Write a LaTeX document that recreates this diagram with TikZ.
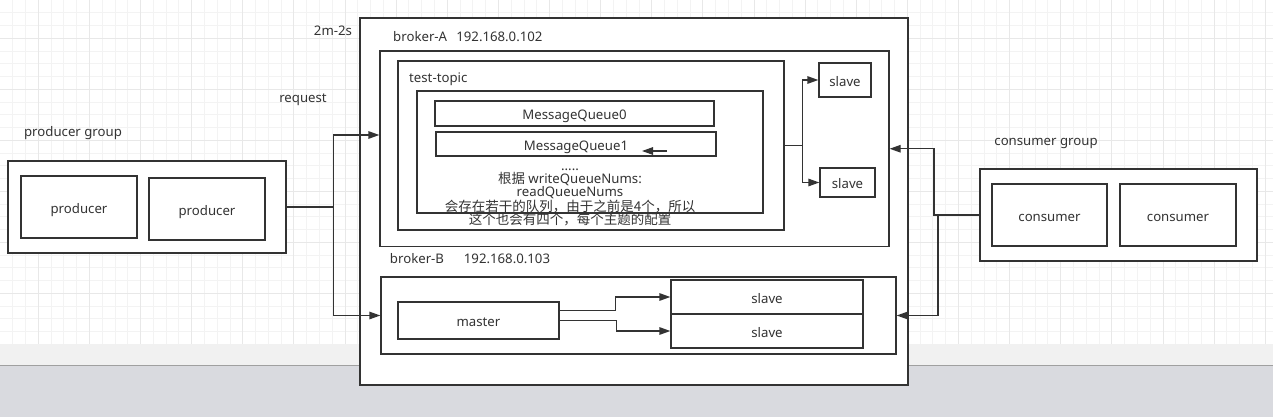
\documentclass[tikz,border=0pt]{standalone}
\usepackage{fontspec}
\setmainfont{Noto Sans}
\newfontfamily\cjk{Noto Sans CJK SC}
\usetikzlibrary{arrows.meta}
\definecolor{ln}{HTML}{333333}
\definecolor{txt}{HTML}{333333}
\definecolor{gridminor}{HTML}{F3F3F3}
\definecolor{gridmajor}{HTML}{E8E8E8}
\definecolor{band}{HTML}{F1F1F1}
\definecolor{floor}{HTML}{D9DADF}
\definecolor{shadow}{HTML}{A0A0A0}
\newcommand\lblfont{\fontsize{13.2pt}{13pt}\selectfont}
\tikzset{
  box/.style={draw=ln, line width=1.3pt, fill=white, inner sep=0pt, text=txt, font=\lblfont, text height=12.5pt, text depth=0pt},
  lbl/.style={text=txt, font=\lblfont, inner sep=0pt, text height=12.5pt, text depth=0pt},
  conn/.style={draw=ln, line width=1.3pt, -{Triangle[length=11pt,width=7.5pt]}},
}
\begin{document}
\begin{tikzpicture}[x=1pt,y=-1pt]
\useasboundingbox (0,0) rectangle (1273,417);
% background grid
\fill[white] (0,0) rectangle (1273,344);
\foreach \k in {0,...,98}{
  \pgfmathsetmacro\gx{12.7+12.78*\k}
  \draw[gridminor, line width=0.8pt] (\gx,0) -- (\gx,344);
}
\foreach \k in {0,...,26}{
  \pgfmathsetmacro\gy{12.8+12.75*\k}
  \draw[gridminor, line width=0.8pt] (0,\gy) -- (1273,\gy);
}
\foreach \k in {0,...,24}{
  \pgfmathsetmacro\gx{38.26+51.12*\k}
  \draw[gridmajor, line width=0.8pt] (\gx,0) -- (\gx,344);
}
\foreach \k in {0,...,6}{
  \pgfmathsetmacro\gy{38.3+51*\k}
  \draw[gridmajor, line width=0.8pt] (0,\gy) -- (1273,\gy);
}
\fill[band] (0,344) rectangle (1273,365);
\fill[floor] (0,365) rectangle (1273,417);
\draw[shadow, line width=1.2pt] (0,365.3) -- (1273,365.3);

% outer frame
\node[box, minimum width=548pt, minimum height=367pt] (frame) at (634,201.5) {};
% broker A
\node[box, minimum width=509pt, minimum height=195.5pt] (brokerA) at (634.5,148.75) {};
\node[box, minimum width=386pt, minimum height=169pt] (topic) at (591,145.5) {};
\node[box, minimum width=346pt, minimum height=122pt] (inner) at (590,152) {};
\node[box, minimum width=279pt, minimum height=25pt] (mq0) at (574.5,113.5) {MessageQueue0};
\node[box, minimum width=280pt, minimum height=24pt] (mq1) at (576,144) {MessageQueue1};
\node[box, minimum width=52pt, minimum height=34pt] (slaveA1) at (845,80) {slave};
\node[box, minimum width=55pt, minimum height=29pt] (slaveA2) at (847.5,182.5) {slave};
% broker B
\node[box, minimum width=515pt, minimum height=77pt] (brokerB) at (638.5,315.5) {};
\node[box, minimum width=161pt, minimum height=37pt] (master) at (478.5,320.5) {master};
\node[box, minimum width=192pt, minimum height=34pt] (slaveB1) at (767,297) {slave};
\node[box, minimum width=192pt, minimum height=34pt] (slaveB2) at (767,331) {slave};
% producer group
\node[box, minimum width=278pt, minimum height=92pt] (pg) at (147,207) {};
\node[box, minimum width=116pt, minimum height=62pt] (p1) at (79,207) {producer};
\node[box, minimum width=116pt, minimum height=62pt] (p2) at (207,209) {producer};
% consumer group
\node[box, minimum width=277pt, minimum height=92pt] (cg) at (1118.5,215) {};
\node[box, minimum width=115pt, minimum height=62pt] (c1) at (1049.5,215) {consumer};
\node[box, minimum width=116pt, minimum height=62pt] (c2) at (1178,215) {consumer};

% labels
\node[lbl] (t2m) at (333,29) {2m-2s};
\node[lbl, anchor=west] (tA) at (393,35) {broker-A\hspace{0.7em}192.168.0.102};
\node[lbl, anchor=west] (tTopic) at (409,76) {test-topic};
\node[lbl] (tB) at (417,257.5) {broker-B};
\node[lbl] (tBip) at (507,257.5) {192.168.0.103};
\node[lbl] (treq) at (303,96) {request};
\node[lbl] (tpg) at (73,130.5) {producer group};
\node[lbl] (tcg) at (1046,139.5) {consumer group};
\node[text=txt, inner sep=0pt, align=center, font=\fontsize{13.2pt}{13pt}\selectfont] (note) at (570,197.5)
  {.....\\ {\cjk\fontsize{13.4pt}{13pt}\selectfont 根据} writeQueueNums:\\ readQueueNums\\ {\cjk\fontsize{13.5pt}{13pt}\selectfont 会存在若干的队列，由于之前是4个，所以}\\ {\cjk\fontsize{13.5pt}{13pt}\selectfont 这个也会有四个，每个主题的配置}};

% connectors
\coordinate (qa) at (667,151);
\coordinate (qb) at (642,151);
\draw[conn] (qa) -- (qb);
\draw[conn] (pg.east) -- ++(47,0) |- ([yshift=13.75pt]brokerA.west);
\draw[conn] (pg.east) -- ++(47,0) |- (brokerB.west);
\draw[conn] (cg.west) -- ++(-45.5,0) |- (brokerA.east);
\draw[conn] (cg.west) -- ++(-41.5,0) |- (brokerB.east);
\draw[conn] (topic.east) -- ++(17.5,0) |- (slaveA1.west);
\draw[conn] (topic.east) -- ++(17.5,0) |- (slaveA2.west);
\draw[conn] ([yshift=10pt]master.east) -- ++(55.5,0) |- (slaveB1.west);
\draw[conn] (master.east) -- ++(56.5,0) |- (slaveB2.west);
\end{tikzpicture}
\end{document}
